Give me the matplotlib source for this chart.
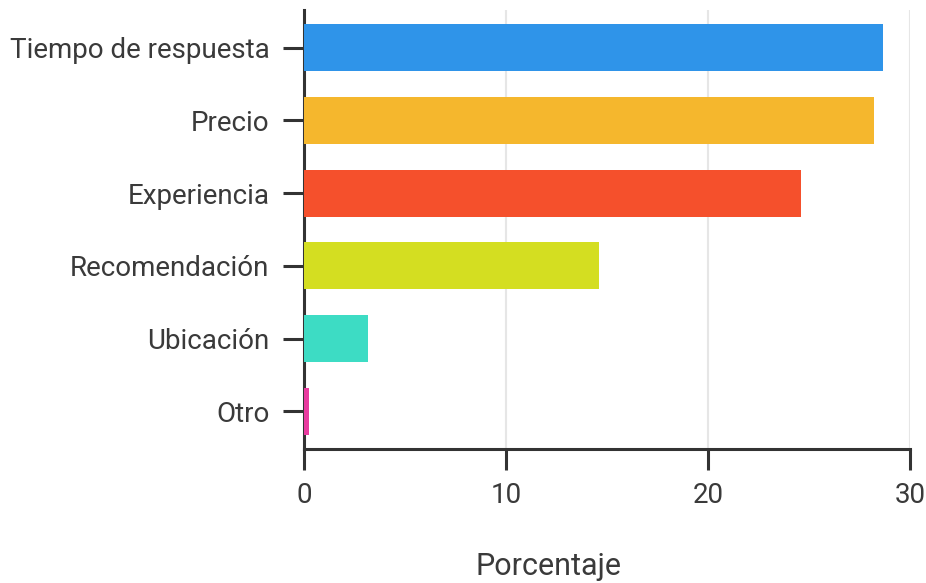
import matplotlib
matplotlib.use("Agg")
import matplotlib.pyplot as plt
from matplotlib import font_manager

categories = ["Tiempo de respuesta", "Precio", "Experiencia", "Recomendación", "Ubicación", "Otro"]
values = [28.65, 28.2, 24.6, 14.6, 3.15, 0.25]
colors = ["#2f94e9", "#f5b72d", "#f5502c", "#d4de21", "#3ddcc4", "#e83a9f"]
xticks = [0, 10, 20, 30]

available = {f.name for f in font_manager.fontManager.ttflist}
family = [f for f in ["Roboto", "DejaVu Sans"] if f in available]
plt.rcParams["font.family"] = family

text_color = "#3a3a3a"
axis_color = "#333333"

fig = plt.figure(figsize=(9.26, 5.83), dpi=100)
ax = fig.add_axes([304 / 926, 1 - 449 / 583, (910 - 304) / 926, (449 - 10) / 583])

ypos = list(range(len(categories)))
ax.barh(ypos, values, height=0.65, color=colors, zorder=3)

ax.set_xlim(0, 30)
ax.set_ylim(len(categories) - 1 + 0.52, -0.52)
ax.set_yticks(ypos)
ax.set_yticklabels(categories)
ax.set_xticks(xticks)
ax.set_xticklabels([str(t) for t in xticks])

ax.grid(axis="x", color="#e6e6e6", linewidth=1.5, zorder=0)
ax.grid(axis="y", visible=False)

for side in ["top", "right"]:
    ax.spines[side].set_visible(False)
for side in ["left", "bottom"]:
    ax.spines[side].set_color(axis_color)
    ax.spines[side].set_linewidth(2.2)

ax.tick_params(axis="both", colors=axis_color, length=15, width=2.2,
               labelcolor=text_color, labelsize=20, pad=9)
ax.tick_params(axis="y", pad=10)

ax.set_xlabel("Porcentaje", fontsize=22, color=text_color)
ax.xaxis.set_label_coords(0.404, -0.235)

fig.savefig("out.png", dpi=100, facecolor="white")
